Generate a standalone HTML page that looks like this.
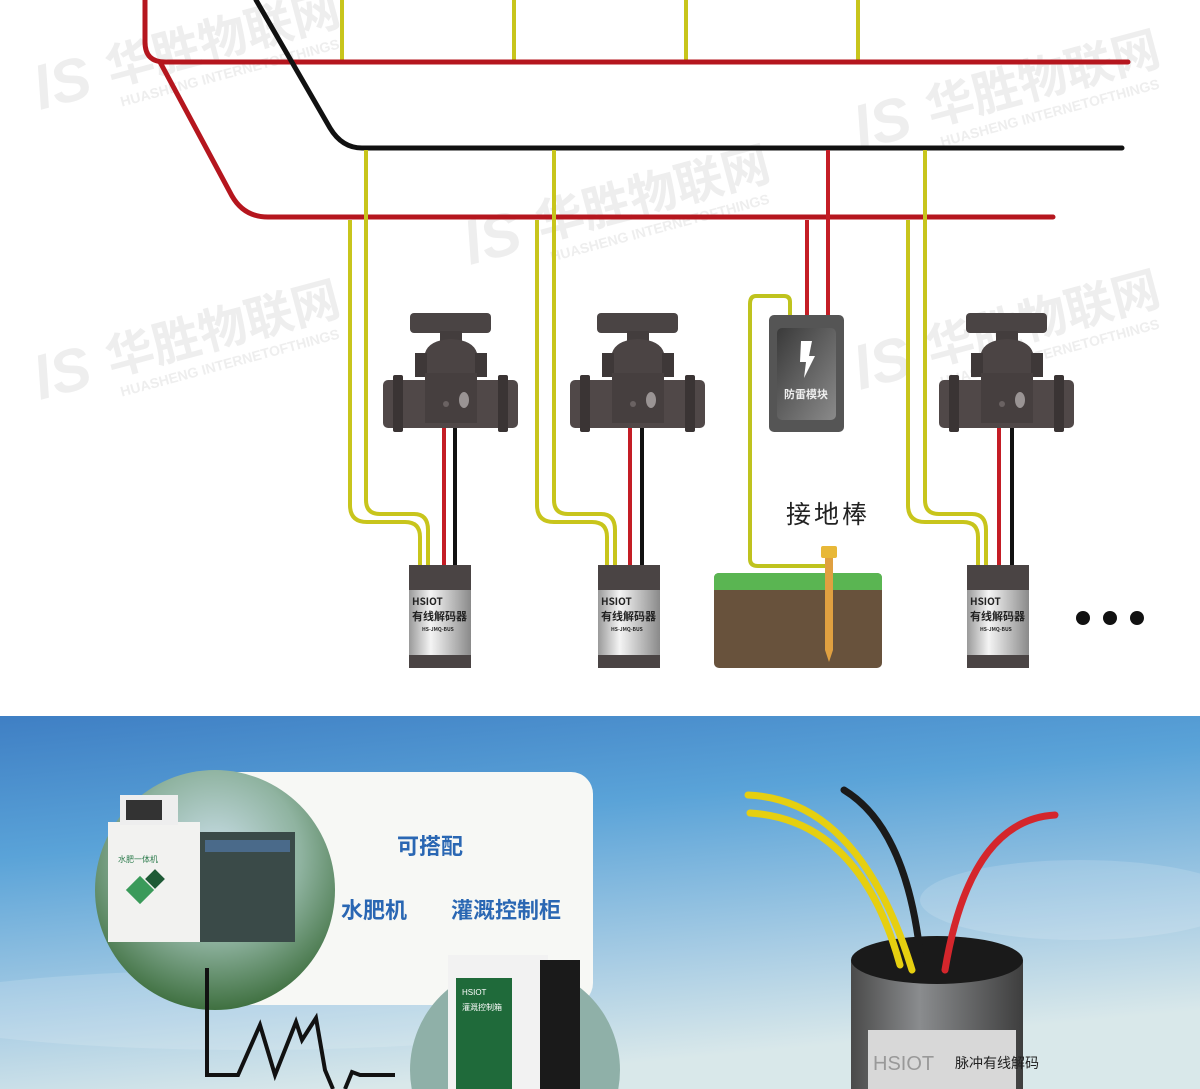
<!DOCTYPE html>
<html><head><meta charset="utf-8"><style>
html,body{margin:0;padding:0;background:#fff;overflow:hidden}
body{width:1200px;height:1089px;overflow:hidden;position:relative;font-family:"Liberation Sans","Noto Sans CJK SC",sans-serif}
svg{position:absolute;left:0;top:0}
</style></head><body>
<svg width="1200" height="1089" viewBox="0 0 1200 1089" xmlns="http://www.w3.org/2000/svg">
<defs>
<linearGradient id="sky" x1="0" y1="0" x2="0.3" y2="1">
<stop offset="0" stop-color="#3f7fc4"/><stop offset="0.35" stop-color="#5aa3d8"/><stop offset="0.75" stop-color="#a9cde4"/><stop offset="1" stop-color="#d9e8ea"/>
</linearGradient>
<linearGradient id="silver" x1="0" y1="0" x2="1" y2="0">
<stop offset="0" stop-color="#9a9a9a"/><stop offset="0.35" stop-color="#f4f4f4"/><stop offset="1" stop-color="#8a8a8a"/>
</linearGradient>
<linearGradient id="cyl" x1="0" y1="0" x2="1" y2="0">
<stop offset="0" stop-color="#4a4a4a"/><stop offset="0.4" stop-color="#8a8c8e"/><stop offset="1" stop-color="#3e3e3e"/>
</linearGradient>
<linearGradient id="mod" x1="0" y1="0" x2="1" y2="1">
<stop offset="0" stop-color="#3a3a3a"/><stop offset="1" stop-color="#8a8a8a"/>
</linearGradient>
<radialGradient id="circ" cx="0.5" cy="0.35" r="0.65">
<stop offset="0" stop-color="#c8dde6"/><stop offset="0.55" stop-color="#8fb3a0"/><stop offset="1" stop-color="#3f7040"/>
</radialGradient>
<g id="valve">
<rect x="27" y="0" width="81" height="20" rx="4" fill="#4a4444"/>
<rect x="57" y="18" width="22" height="14" fill="#433d3d"/>
<path d="M42 40 Q46 27 68 26 Q90 27 94 40 L94 95 L42 95 Z" fill="#4b4444"/>
<rect x="32" y="40" width="12" height="24" fill="#3e3838"/>
<rect x="92" y="40" width="12" height="24" fill="#3e3838"/>
<rect x="0" y="67" width="135" height="48" rx="5" fill="#504848"/>
<rect x="10" y="62" width="10" height="57" rx="2" fill="#3a3434"/>
<rect x="115" y="62" width="10" height="57" rx="2" fill="#3a3434"/>
<rect x="42" y="60" width="52" height="50" fill="#463f3f"/>
<ellipse cx="81" cy="87" rx="5" ry="8" fill="#9a9494"/>
<circle cx="63" cy="91" r="3" fill="#6a6262"/>
</g>
<g id="dec">
<rect x="0" y="0" width="62" height="103" fill="#4a4444"/>
<rect x="0" y="25" width="62" height="65" fill="url(#silver)"/>
</g>
</defs>

<!-- watermarks -->
<g fill="#eeeeee" font-weight="bold">
<g transform="translate(40,110) rotate(-15)"><text x="0" y="0" font-size="60" font-style="italic">lS</text><text x="75" y="-5" font-size="48" font-family="'Noto Sans CJK SC',sans-serif">华胜物联网</text><text x="80" y="18" font-size="14">HUASHENG INTERNETOFTHINGS</text></g>
<g transform="translate(860,150) rotate(-15)"><text x="0" y="0" font-size="60" font-style="italic">lS</text><text x="75" y="-5" font-size="48" font-family="'Noto Sans CJK SC',sans-serif">华胜物联网</text><text x="80" y="18" font-size="14">HUASHENG INTERNETOFTHINGS</text></g>
<g transform="translate(470,265) rotate(-15)"><text x="0" y="0" font-size="60" font-style="italic">lS</text><text x="75" y="-5" font-size="48" font-family="'Noto Sans CJK SC',sans-serif">华胜物联网</text><text x="80" y="18" font-size="14">HUASHENG INTERNETOFTHINGS</text></g>
<g transform="translate(40,400) rotate(-15)"><text x="0" y="0" font-size="60" font-style="italic">lS</text><text x="75" y="-5" font-size="48" font-family="'Noto Sans CJK SC',sans-serif">华胜物联网</text><text x="80" y="18" font-size="14">HUASHENG INTERNETOFTHINGS</text></g>
<g transform="translate(860,390) rotate(-15)"><text x="0" y="0" font-size="60" font-style="italic">lS</text><text x="75" y="-5" font-size="48" font-family="'Noto Sans CJK SC',sans-serif">华胜物联网</text><text x="80" y="18" font-size="14">HUASHENG INTERNETOFTHINGS</text></g>
</g>

<g stroke="#c8c51c" stroke-width="4" fill="none">
<path d="M342 0V60M514 0V60M686 0V60M858 0V60"/>
</g>
<g fill="none" stroke-width="5" stroke-linecap="round">
<path d="M145 0 V42 Q145 62 165 62 H1128" stroke="#b5161e"/>
<path d="M160 62 L232 196 Q244 217 268 217 H1053" stroke="#b5161e"/>
<path d="M256 0 L330 128 Q342 148 362 148 H1122" stroke="#111"/>
</g>
<g stroke="#c8c51c" stroke-width="4" fill="none">
<path d="M350 220 V505 Q350 522 367 522 H405 Q420 522 420 537 V566"/>
<path d="M366 150 V500 Q366 514 380 514 H414 Q428 514 428 530 V566"/>
<path d="M537 220 V505 Q537 522 554 522 H592 Q607 522 607 537 V566"/>
<path d="M554 150 V500 Q554 514 568 514 H601 Q615 514 615 530 V566"/>
<path d="M908 220 V505 Q908 522 925 522 H963 Q978 522 978 537 V566"/>
<path d="M925 150 V500 Q925 514 939 514 H972 Q986 514 986 530 V566"/>
<path d="M790 318 V302 Q790 296 784 296 H756 Q750 296 750 304 V559 Q750 566 758 566 H826" stroke="#bfc31e"/>
</g>
<g stroke-width="4">
<path d="M444 425V566M630 425V566M999 425V566M807 220V318M828 150V318" stroke="#c41d25"/>
<path d="M455 425V566M642 425V566M1012 425V566" stroke="#111"/>
</g>
<use href="#valve" x="383" y="313"/>
<use href="#valve" x="570" y="313"/>
<use href="#valve" x="939" y="313"/>
<use href="#dec" x="409" y="565"/>
<use href="#dec" x="598" y="565"/>
<use href="#dec" x="967" y="565"/>
<g font-family="'Noto Sans CJK SC',sans-serif" fill="#222" font-weight="bold">
<text x="412" y="605" font-size="10">HSIOT</text><text x="412" y="620" font-size="11">有线解码器</text><text x="422" y="631" font-size="5">HS-JMQ-BUS</text>
<text x="601" y="605" font-size="10">HSIOT</text><text x="601" y="620" font-size="11">有线解码器</text><text x="611" y="631" font-size="5">HS-JMQ-BUS</text>
<text x="970" y="605" font-size="10">HSIOT</text><text x="970" y="620" font-size="11">有线解码器</text><text x="980" y="631" font-size="5">HS-JMQ-BUS</text>
</g>
<rect x="769" y="315" width="75" height="117" rx="5" fill="#555"/>
<rect x="777" y="328" width="59" height="92" rx="5" fill="url(#mod)"/>
<path d="M801 341 L812 341 L809 356 L815 356 L804 378 L806 362 L800 362 Z" fill="#fff"/>
<text x="806" y="398" font-size="11" fill="#eee" text-anchor="middle" font-family="'Noto Sans CJK SC',sans-serif" font-weight="bold">防雷模块</text>
<text x="828" y="523" font-size="25" text-anchor="middle" fill="#222" letter-spacing="3" font-family="'Noto Sans CJK SC',sans-serif">接地棒</text>
<rect x="714" y="573" width="168" height="95" rx="5" fill="#68523c"/>
<path d="M714 590 V578 Q714 573 719 573 H877 Q882 573 882 578 V590 Z" fill="#5ab552"/>
<path d="M825 556 H833 V650 L829 662 L825 650 Z" fill="#e0a040"/>
<rect x="821" y="546" width="16" height="12" rx="2" fill="#e8b838"/>
<circle cx="1083" cy="618" r="7" fill="#111"/><circle cx="1110" cy="618" r="7" fill="#111"/><circle cx="1137" cy="618" r="7" fill="#111"/>

<rect x="0" y="716" width="1200" height="373" fill="url(#sky)"/>
<g fill="#fff" opacity="0.15"><ellipse cx="250" cy="1010" rx="350" ry="40"/><ellipse cx="1080" cy="900" rx="160" ry="40"/></g>
<rect x="195" y="772" width="398" height="233" rx="22" fill="#f7f8f5"/>
<circle cx="215" cy="890" r="120" fill="url(#circ)"/>
<rect x="200" y="832" width="95" height="110" fill="#3a4a48"/>
<rect x="205" y="840" width="85" height="12" fill="#4a6a8a"/>
<rect x="108" y="822" width="92" height="120" fill="#f2f2f0"/>
<rect x="120" y="795" width="58" height="30" fill="#eee"/><rect x="126" y="800" width="36" height="20" fill="#333"/>
<rect x="130" y="880" width="20" height="20" fill="#3a9a5a" transform="rotate(45 140 890)"/>
<rect x="148" y="872" width="14" height="14" fill="#1e5a35" transform="rotate(45 155 879)"/>
<text x="118" y="862" font-size="8" fill="#2a7a4a" font-family="'Noto Sans CJK SC',sans-serif">水肥一体机</text>
<circle cx="515" cy="1070" r="105" fill="#8fb0a8"/>
<rect x="448" y="955" width="100" height="134" fill="#f2f2f2"/>
<rect x="540" y="960" width="40" height="129" fill="#1a1a1a"/>
<rect x="456" y="978" width="56" height="111" fill="#1f6a3a"/>
<text x="462" y="995" font-size="8" fill="#fff">HSIOT</text>
<text x="462" y="1010" font-size="8" fill="#fff" font-family="'Noto Sans CJK SC',sans-serif">灌溉控制箱</text>
<g font-family="'Noto Sans CJK SC',sans-serif" font-weight="bold" fill="#2a67b3">
<text x="430" y="854" font-size="22" text-anchor="middle">可搭配</text>
<text x="374" y="918" font-size="22" text-anchor="middle">水肥机</text>
<text x="506" y="918" font-size="22" text-anchor="middle">灌溉控制柜</text>
</g>
<path d="M207 968 V1075 H238 L260 1025 L275 1075 L296 1022 L302 1040 L316 1018 L325 1070 L333 1089 M345 1089 L352 1072 L360 1075 H395" fill="none" stroke="#111" stroke-width="4"/>
<rect x="851" y="960" width="172" height="129" fill="url(#cyl)"/>
<ellipse cx="937" cy="960" rx="86" ry="24" fill="#1a1a1a"/>
<rect x="868" y="1030" width="148" height="59" fill="#d8d8d8"/>
<text x="873" y="1070" font-size="20" fill="#999">HSIOT</text>
<text x="955" y="1068" font-size="14" fill="#222" font-family="'Noto Sans CJK SC',sans-serif">脉冲有线解码</text>
<g fill="none" stroke-linecap="round" stroke-width="7">
<path d="M748 795 Q860 800 912 970" stroke="#e6cf10"/>
<path d="M750 813 Q860 820 900 965" stroke="#e6cf10"/>
<path d="M844 790 Q910 830 922 972" stroke="#1a1a1a"/>
<path d="M1055 815 Q970 820 945 970" stroke="#d4262c"/>
</g>
</svg>
</body></html>
